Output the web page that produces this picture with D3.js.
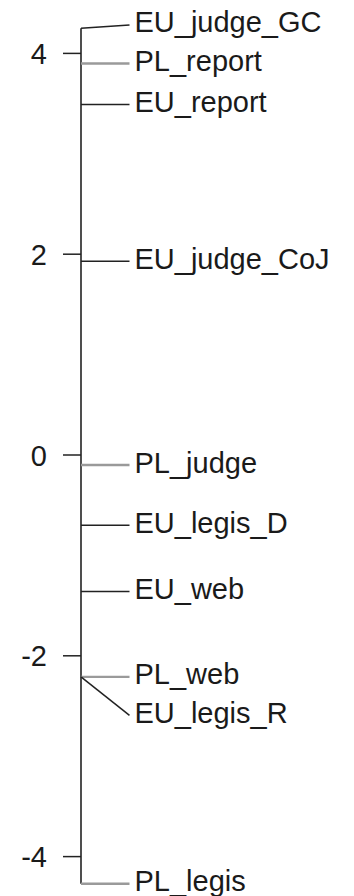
<!DOCTYPE html>
<html>
<head>
<meta charset="utf-8">
<script src="https://cdn.jsdelivr.net/npm/d3@7"></script>
<style>
  html, body { margin: 0; padding: 0; background: #fff; }
  svg { display: block; }
  text { font-family: "Liberation Sans", Arial, sans-serif; }
</style>
</head>
<body>
<svg id="chart" width="354" height="896"></svg>
<script>
// Scores per source, ordered from highest to lowest
const labels = ["EU_judge_GC", "PL_report", "EU_report", "EU_judge_CoJ", "PL_judge",
                "EU_legis_D", "EU_web", "PL_web", "EU_legis_R", "PL_legis"];
const values = [4.25, 3.90, 3.49, 1.93, -0.10, -0.70, -1.36, -2.21, -2.21, -4.27];
const origin = ["EU", "PL", "EU", "EU", "PL", "EU", "EU", "PL", "EU", "PL"];
const tickValues = [-4, -2, 0, 2, 4];

const W = 354, H = 896;
const axisX = 81;          // x of the vertical scale line
const labelGap = 38.5;     // minimum vertical distance between labels
const fontSize = 29;

const svg = d3.select("#chart");

const y = d3.scaleLinear().domain([-4, 4]).range([856.6, 53.4]);
const colour = d3.scaleOrdinal().domain(["EU", "PL"]).range(["#222222", "#9a9a9a"]);
const width = d3.scaleOrdinal().domain(["EU", "PL"]).range([1.5, 2.4]);

const items = labels.map((name, i) => ({ name, value: values[i], origin: origin[i], py: y(values[i]) }));

// Spread overlapping labels outward from the middle of the scale
const upper = items.filter(d => d.value >= 0).sort((a, b) => a.value - b.value);
const lower = items.filter(d => d.value < 0).sort((a, b) => b.value - a.value);
let prev = null;
upper.forEach(d => { d.ly = prev == null ? d.py : Math.min(d.py, prev - labelGap); prev = d.ly; });
prev = null;
lower.forEach(d => { d.ly = prev == null ? d.py : Math.max(d.py, prev + labelGap); prev = d.ly; });

// Axis: ticks on the left, vertical line over the data extent
const ticks = svg.append("g");
ticks.selectAll("line").data(tickValues).join("line")
  .attr("x1", axisX - 18).attr("x2", axisX)
  .attr("y1", d => y(d)).attr("y2", d => y(d))
  .attr("stroke", "#222").attr("stroke-width", 1.5);
ticks.selectAll("text").data(tickValues).join("text")
  .attr("x", 47).attr("y", d => y(d) + 10.5)
  .attr("text-anchor", "end")
  .attr("font-size", fontSize)
  .attr("fill", "#1a1a1a")
  .text(d => d3.format("d")(d).replace("−", "-"));

const extent = d3.extent(values);
svg.append("line")
  .attr("x1", axisX).attr("x2", axisX)
  .attr("y1", y(extent[1])).attr("y2", y(extent[0]))
  .attr("stroke", "#222").attr("stroke-width", 1.6);

// Connectors from each score to its label
svg.append("g").selectAll("line").data(items).join("line")
  .attr("x1", axisX).attr("y1", d => d.py)
  .attr("x2", 129.5).attr("y2", d => d.ly)
  .attr("stroke", d => colour(d.origin))
  .attr("stroke-width", d => width(d.origin));

svg.append("g").selectAll("text").data(items).join("text")
  .attr("x", 134.5).attr("y", d => d.ly + 7.5)
  .attr("font-size", fontSize)
  .attr("fill", "#1a1a1a")
  .text(d => d.name);
</script>
</body>
</html>
